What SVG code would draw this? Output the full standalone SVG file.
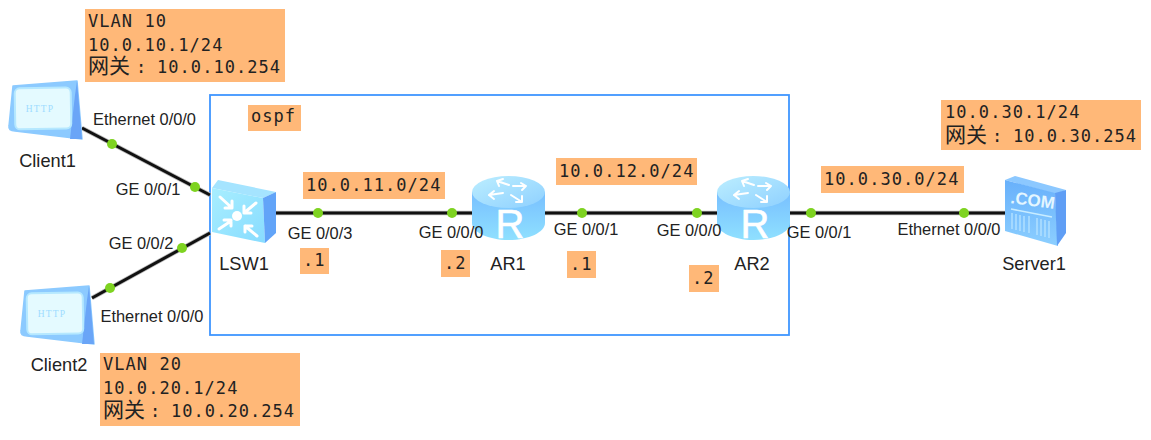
<svg xmlns="http://www.w3.org/2000/svg" width="1151" height="440" viewBox="0 0 1151 440">
<style>
.note{fill:#ffb878}
.mono{font-family:"DejaVu Sans Mono","Liberation Mono",monospace;font-size:17px;letter-spacing:1.05px;fill:#222}
.cjk{font-family:"Noto Sans CJK SC",sans-serif;font-size:21px;letter-spacing:0;fill:#222}
.lbl{font-family:"Liberation Sans",Arial,sans-serif;font-size:16.4px;fill:#222;text-anchor:middle}
.name{font-family:"Liberation Sans",Arial,sans-serif;font-size:18.2px;fill:#222;text-anchor:middle}
.halo{stroke:#bbb;stroke-width:4.5;fill:none}
.wire{stroke:#111;stroke-width:3;fill:none}
.dot{fill:#7ed321}
.ico{fill:none;stroke:#fff;stroke-width:3;stroke-linecap:round;stroke-linejoin:round}
.ico2{fill:none;stroke:#fff;stroke-width:2;stroke-linecap:round;stroke-linejoin:round}
</style>
<defs>
<linearGradient id="cyl" x1="0" y1="0" x2="0" y2="1"><stop offset="0" stop-color="#78bfff"/><stop offset="1" stop-color="#8fe0ff"/></linearGradient>
<linearGradient id="cylTop" x1="0" y1="0" x2="1" y2="1"><stop offset="0" stop-color="#bceeff"/><stop offset="1" stop-color="#8ed0ff"/></linearGradient>
<linearGradient id="swFace" x1="0" y1="0" x2="1" y2="1"><stop offset="0" stop-color="#a8eeff"/><stop offset="1" stop-color="#88dcff"/></linearGradient>
<linearGradient id="srvFace" x1="0" y1="0" x2="0" y2="1"><stop offset="0" stop-color="#68b0fb"/><stop offset="1" stop-color="#8ccfff"/></linearGradient>
<g id="client-icon">
<path d="M3 5 L67 0 L72 58 L5 50 Q-2 50 -1 45 Z" fill="#8ccaff" stroke="#8ccaff" stroke-width="1.500" stroke-linejoin="round"/>
<path d="M67 0 L72 58 L60 58 L65 14 Z" fill="#6aa5f7"/>
<rect x="5" y="7" width="56" height="41" rx="5" transform="rotate(-1 30 28)" fill="#e4faff" stroke="#b5e8ff" stroke-width="2"/>
<text x="30" y="31" text-anchor="middle" font-family="Liberation Serif,serif" font-size="9.500" letter-spacing="1.200" fill="#9fdcff">HTTP</text>
</g>
<g id="router-icon">
<path d="M0 16 V47 C0 56 16 64 36.500 64 S73 56 73 47 V16 Z" fill="url(#cyl)"/>
<ellipse cx="36.500" cy="16" rx="36.500" ry="16" fill="url(#cylTop)"/>
<g class="ico2">
<path d="M37 9 L25 5 M25 5 L27 10 M25 5 L31 3"/>
<path d="M41 10 L54 10 M54 10 L49 7 M54 10 L50 14"/>
<path d="M31 17 L17 19 M17 19 L22 15 M17 19 L22 23"/>
<path d="M39 19 L50 26 M50 26 L44 26 M50 26 L50 20"/>
</g>
<text x="38" y="62" text-anchor="middle" font-family="Liberation Sans,sans-serif" font-size="40" fill="#fff" stroke="#fff" stroke-width="0.600">R</text>
</g>
</defs>

<rect id="ospf-area" x="210" y="95" width="579" height="240" fill="#fff" stroke="#3f96ff" stroke-width="1.800"/>

<g id="connectors">
<path class="halo" d="M82 128 L210 195 M92 298 L210 233 M276 213 H1005"/>
<path class="wire" d="M82 128 L210 195 M92 298 L210 233 M276 213 H1005"/>
<circle class="dot" cx="112" cy="144" r="5"/>
<circle class="dot" cx="195" cy="187" r="5"/>
<circle class="dot" cx="110" cy="288" r="5"/>
<circle class="dot" cx="182" cy="248" r="5"/>
<circle class="dot" cx="318" cy="213" r="5"/>
<circle class="dot" cx="452" cy="213" r="5"/>
<circle class="dot" cx="582" cy="213" r="5"/>
<circle class="dot" cx="697" cy="213" r="5"/>
<circle class="dot" cx="811" cy="213" r="5"/>
<circle class="dot" cx="964" cy="213" r="5"/>
</g>

<g id="Client1">
<use href="#client-icon" x="10" y="81"/>
<text class="name" x="47.500" y="167">Client1</text>
</g>
<g id="Client2">
<use href="#client-icon" x="22" y="286"/>
<text class="name" x="59" y="371">Client2</text>
</g>
<g id="LSW1">
<path d="M212 188 L218 180 L276 192 L263 198 Z" fill="#a5e4ff"/>
<path d="M212 188 L263 198 L265 243 L212 232 Z" fill="url(#swFace)"/>
<path d="M263 198 L276 192 L276 233 L265 243 Z" fill="#62a4f8"/>
<g class="ico">
<path d="M220 197 L232 208 M232 201 V208 H225"/>
<path d="M256 203 L244 213 M244 206 V213 H251"/>
<path d="M219 229 L231 221 M224 220 H231 V226"/>
<path d="M257 236 L245 226 M245 232 V226 H252"/>
</g>
<circle cx="237" cy="216" r="5" fill="#fff"/>
<text class="name" x="244" y="270">LSW1</text>
</g>
<g id="AR1">
<use href="#router-icon" x="472" y="176"/>
<text class="name" x="508" y="270">AR1</text>
</g>
<g id="AR2">
<use href="#router-icon" x="717" y="176"/>
<text class="name" x="752" y="270">AR2</text>
</g>
<g id="Server1">
<path d="M1005 180 L1015 176 L1066 190 L1056 194 Z" fill="#8cc8ff"/>
<path d="M1005 180 L1055 193 L1058 246 L1005 231 Z" fill="url(#srvFace)"/>
<path d="M1055 193 L1066 190 L1066 233 L1057 246 Z" fill="#5f9ef5"/>
<text x="1032" y="206" transform="rotate(8 1032 206)" text-anchor="middle" font-family="Liberation Sans,sans-serif" font-size="17" font-weight="bold" fill="#e4f6ff">.COM</text>
<path d="M1011 209 L1052 217" stroke="#c8ecff" stroke-width="1.500" fill="none"/>
<path d="M1012 213 V229 M1016 214 V230 M1020 215 V231 M1024 216 V232 M1029 216 V233 M1037 218 V235 M1041 219 V236 M1045 220 V237 M1049 221 V238" stroke="#b0e0ff" stroke-width="1.500" fill="none"/>
<text class="name" x="1034" y="270">Server1</text>
</g>

<g id="interface-labels">
<text class="lbl" x="144.500" y="125">Ethernet 0/0/0</text>
<text class="lbl" x="148" y="195">GE 0/0/1</text>
<text class="lbl" x="141" y="249">GE 0/0/2</text>
<text class="lbl" x="152" y="322">Ethernet 0/0/0</text>
<text class="lbl" x="320" y="239">GE 0/0/3</text>
<text class="lbl" x="451" y="238">GE 0/0/0</text>
<text class="lbl" x="586" y="235">GE 0/0/1</text>
<text class="lbl" x="689" y="236">GE 0/0/0</text>
<text class="lbl" x="819" y="238">GE 0/0/1</text>
<text class="lbl" x="949" y="235">Ethernet 0/0/0</text>
</g>

<g id="notes">
<rect class="note" x="85" y="9" width="200" height="73"/>
<text class="mono"><tspan x="88" y="27">VLAN 10</tspan><tspan x="88" y="51">10.0.10.1/24</tspan><tspan class="cjk" x="88" y="73">网关</tspan><tspan x="136" y="73">:</tspan><tspan x="157" y="73">10.0.10.254</tspan></text>

<rect class="note" x="100" y="353" width="200" height="73"/>
<text class="mono"><tspan x="103" y="370">VLAN 20</tspan><tspan x="103" y="394">10.0.20.1/24</tspan><tspan class="cjk" x="103" y="417">网关</tspan><tspan x="150" y="417">:</tspan><tspan x="171" y="417">10.0.20.254</tspan></text>

<rect class="note" x="941" y="100" width="200" height="50"/>
<text class="mono"><tspan x="945" y="118">10.0.30.1/24</tspan><tspan class="cjk" x="945" y="142">网关</tspan><tspan x="992" y="142">:</tspan><tspan x="1013" y="142">10.0.30.254</tspan></text>

<rect class="note" x="248" y="105" width="53" height="26"/>
<text class="mono" x="251" y="122">ospf</text>

<rect class="note" x="303" y="172" width="142" height="27"/>
<text class="mono" x="306" y="191">10.0.11.0/24</text>
<rect class="note" x="556" y="158" width="141" height="27"/>
<text class="mono" x="559" y="177">10.0.12.0/24</text>
<rect class="note" x="821" y="166" width="143" height="27"/>
<text class="mono" x="824" y="185">10.0.30.0/24</text>

<rect class="note" x="300" y="248" width="29" height="26"/>
<text class="mono" x="303" y="266">.1</text>
<rect class="note" x="441" y="250" width="29" height="27"/>
<text class="mono" x="444" y="269">.2</text>
<rect class="note" x="567" y="251" width="29" height="27"/>
<text class="mono" x="570" y="270">.1</text>
<rect class="note" x="689" y="265" width="30" height="27"/>
<text class="mono" x="692" y="284">.2</text>
</g>
</svg>
